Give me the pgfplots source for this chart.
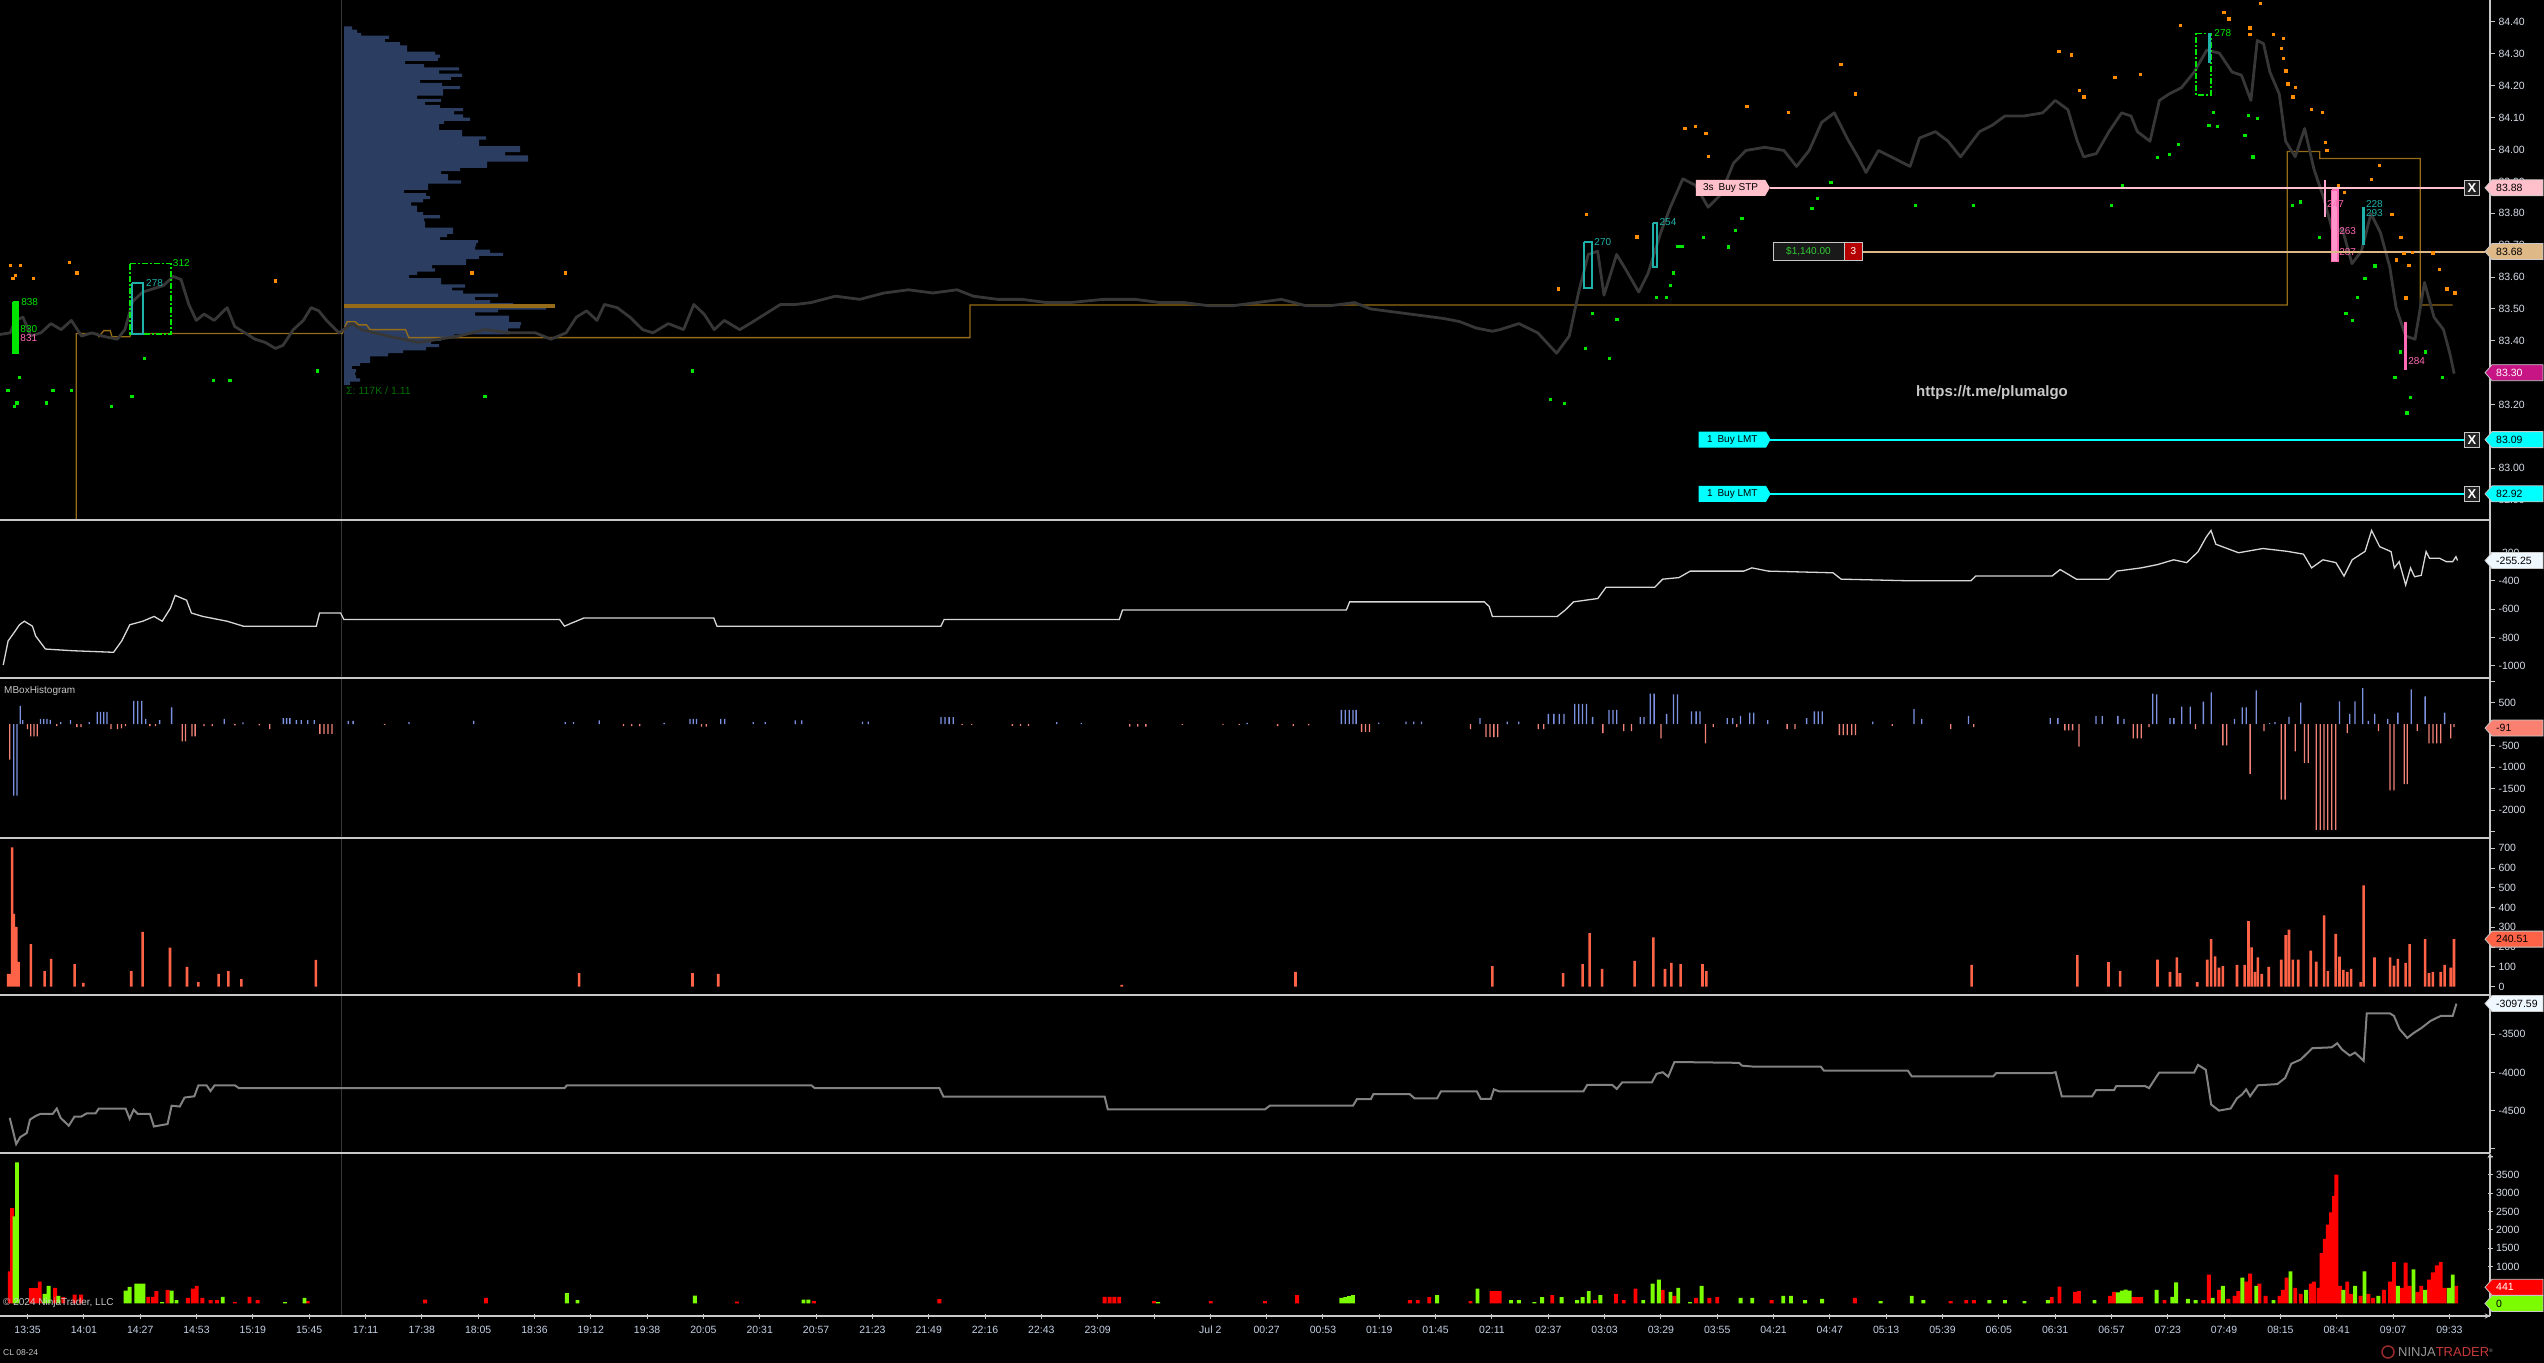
\documentclass[border=0pt]{standalone}
\usepackage{pgfplots}
\pgfplotsset{compat=1.18}
\usepackage{fontspec}
\setmainfont{Liberation Sans}
\usetikzlibrary{shapes.symbols}

\definecolor{axcol}{RGB}{200,200,200}
\definecolor{tickcol}{RGB}{215,220,232}
\definecolor{xtickcol}{RGB}{195,208,228}
\definecolor{profcol}{RGB}{43,62,98}
\definecolor{poccol}{RGB}{150,108,25}
\definecolor{pricecol}{RGB}{55,55,55}
\definecolor{odot}{RGB}{255,140,0}
\definecolor{gdot}{RGB}{0,230,0}
\definecolor{tealc}{RGB}{32,178,170}
\definecolor{hpink}{RGB}{255,105,180}
\definecolor{pinkord}{RGB}{255,192,203}
\definecolor{tanord}{RGB}{222,184,135}
\definecolor{cyanord}{RGB}{0,255,255}
\definecolor{magflag}{RGB}{199,21,133}
\definecolor{whflag}{RGB}{240,248,255}
\definecolor{salm}{RGB}{240,130,120}
\definecolor{salmflag}{RGB}{250,128,114}
\definecolor{blu}{RGB}{125,145,225}
\definecolor{tomato}{RGB}{255,99,71}
\definecolor{vred}{RGB}{255,0,0}
\definecolor{vgreen}{RGB}{124,252,0}
\definecolor{p2line}{RGB}{215,215,215}
\definecolor{p5line}{RGB}{130,130,130}
\definecolor{sessc}{RGB}{55,55,55}
\definecolor{xbg}{RGB}{35,35,35}
\definecolor{lgray}{RGB}{200,200,200}
\definecolor{dgreen}{RGB}{0,110,0}
\definecolor{ordbg}{RGB}{25,25,25}
\definecolor{ordgreen}{RGB}{50,205,50}
\definecolor{ordred}{RGB}{180,0,0}
\definecolor{logocol}{RGB}{150,40,40}
\definecolor{logotext}{RGB}{150,150,150}

\newcommand{\tf}{\fontsize{10.5}{12}\selectfont}
\newcommand{\lf}{\fontsize{10}{11}\selectfont}

\newcommand{\flag}[4]{%
  \filldraw[fill=#2, draw=axcol, line width=0.8pt] ([xshift=-5pt]#1) -- ++(7pt,8pt) -- ++(51pt,0pt) -- ++(0pt,-16pt) -- ++(-51pt,0pt) -- cycle;
  \node[anchor=west, inner sep=0pt, text=#3, font=\tf] at ([xshift=6pt]#1) {#4};
}

\pgfplotsset{
  panelbase/.style={
    scale only axis, width=2490pt, xmin=0, xmax=1535,
    anchor=north west,
    axis line style={draw=axcol, line width=1.3pt, -},
    tick align=outside, major tick length=5pt,
    ytick style={draw=axcol, line width=1pt},
    yticklabel style={font=\tf, text=tickcol, anchor=west},
    /pgf/number format/assume math mode=true,
    /pgf/number format/1000 sep={},
    scaled y ticks=false,
  },
  panel/.style={panelbase, axis x line=none, axis y line*=right},
}

\begin{document}
\begin{tikzpicture}[x=1pt,y=1pt]
\useasboundingbox (0,0) rectangle (2544,1363);
\fill[black] (0,0) rectangle (2544,1363);
\draw[sessc, line width=1pt] (341,47) -- (341,1363);

% ---------- volume profile ----------
\begin{axis}[at={(344pt,1363pt)}, anchor=north west, scale only axis, width=250pt, height=520pt,
  xmin=0, xmax=250, ymin=82.838, ymax=84.469, hide axis]
\addplot[xbar, bar width=0.00986, bar shift=0pt, fill=profcol, draw=none] coordinates {
(8,84.381) (13,84.371) (17,84.361) (45,84.352) (41,84.342) (56,84.332) (63,84.322) (63,84.312) (91,84.302) (96,84.293)
(94,84.283) (61,84.273) (80,84.263) (115,84.253) (95,84.243) (118,84.233) (107,84.223) (76,84.214) (98,84.204) (116,84.194)
(99,84.184) (99,84.174) (73,84.164) (97,84.154) (81,84.145) (96,84.135) (119,84.125) (110,84.115) (119,84.105) (126,84.095)
(100,84.085) (95,84.076) (95,84.066) (118,84.056) (118,84.046) (142,84.036) (135,84.026) (135,84.016) (176,84.006) (176,83.997)
(161,83.987) (184,83.977) (184,83.967) (143,83.957) (143,83.947) (116,83.937) (97,83.928) (104,83.918) (104,83.908) (117,83.898)
(84,83.888) (84,83.878) (60,83.868) (82,83.858) (86,83.849) (79,83.839) (67,83.829) (73,83.819) (73,83.809) (79,83.799)
(96,83.789) (80,83.780) (81,83.770) (81,83.760) (109,83.750) (109,83.740) (103,83.730) (96,83.720) (134,83.711) (132,83.701)
(131,83.691) (146,83.681) (159,83.671) (135,83.661) (122,83.651) (122,83.642) (88,83.632) (91,83.622) (73,83.612) (65,83.602)
(97,83.592) (97,83.582) (121,83.572) (108,83.563) (119,83.553) (154,83.543) (131,83.533) (146,83.523) (169,83.513) (202,83.503)
(154,83.494) (131,83.484) (165,83.474) (165,83.464) (177,83.454) (176,83.444) (164,83.434) (166,83.425) (110,83.415) (97,83.405)
(87,83.395) (95,83.385) (82,83.375) (59,83.366) (44,83.356) (26,83.346) (26,83.336) (16,83.326) (8,83.316) (12,83.306)
(11,83.297) (12,83.287) (16,83.277) (6,83.267)};
\end{axis}

% ---------- P1 price ----------
\begin{axis}[panel, at={(0pt,1363pt)}, height=520pt, ymin=82.838, ymax=84.469,
  ytick={82.9,83,83.1,83.2,83.4,83.5,83.6,83.7,83.8,83.9,84,84.1,84.2,84.3,84.4},
  extra y ticks={83.3}, extra y tick labels={},
  yticklabel={\pgfmathprintnumber[fixed,fixed zerofill,precision=2]{\tick}}]
\addplot[poccol, line width=1.3pt] coordinates {(47,82.838) (47,83.423) (60,83.423) (61,83.413) (64,83.432) (68,83.432) (69,83.413) (80,83.413) (81,83.423) (211,83.423) (214,83.46) (219,83.46) (221,83.45) (226,83.45) (228,83.435) (250,83.435) (252,83.41) (598,83.41) (598,83.512) (1410,83.512) (1410,83.994) (1430,83.994) (1430,83.972) (1492,83.972) (1492,83.512) (1512,83.512)};
\addplot[pricecol, line width=2.8pt, line join=round] coordinates {
(0,83.42) (6.3,83.425) (9.4,83.464) (14.2,83.474) (18.9,83.415) (25.2,83.425) (31.4,83.454) (37.7,83.435) (44,83.464) (50.3,83.415)
(56.6,83.425) (62.9,83.415) (72.3,83.405) (77,83.435) (81.8,83.524) (88,83.553) (94.3,83.563) (100.6,83.573) (106.9,83.602) (111.6,83.592)
(116.4,83.514) (121,83.464) (125.8,83.484) (132,83.464) (140,83.504) (144.7,83.445) (151,83.425) (157.2,83.405) (163.5,83.395) (169.8,83.376)
(174.5,83.386) (180.8,83.435) (187,83.464) (191.8,83.504) (196.5,83.494) (201.3,83.464) (209,83.425) (217,83.454) (223,83.435) (239,83.415)
(258,83.395) (283,83.415) (298.7,83.435) (314.5,83.425) (330,83.425) (339.6,83.405) (349,83.425) (355.3,83.474) (361.6,83.494) (368,83.464)
(372.6,83.514) (380.5,83.504) (388.4,83.474) (396.2,83.435) (402.5,83.425) (412,83.454) (421.4,83.435) (427.7,83.514) (434,83.484) (440.3,83.435)
(446.5,83.464) (456,83.435) (462.3,83.454) (471.7,83.484) (481.1,83.514) (490.6,83.514)
(500,83.52) (515,83.54) (530,83.53) (545,83.55) (560,83.56) (575,83.55) (590,83.56) (600,83.54) (615,83.53) (630,83.53)
(645,83.52) (660,83.52) (680,83.53) (700,83.53) (715,83.52) (730,83.52) (745,83.51) (760,83.51) (775,83.52) (790,83.53)
(805,83.51) (820,83.51) (835,83.52) (845,83.50) (860,83.49) (875,83.48) (890,83.47) (900,83.46) (910,83.44) (920,83.43)
(924.6,83.435) (936.3,83.454) (948,83.425) (959.6,83.361) (967.4,83.415) (973.2,83.553) (979.1,83.671) (984.9,83.681) (988.8,83.543) (996.6,83.671)
(1002.4,83.622) (1010.2,83.553) (1016,83.612) (1023.8,83.74) (1029.7,83.819) (1037.4,83.908) (1045.2,83.888) (1053,83.819) (1060.8,83.859) (1068.6,83.957)
(1076.3,83.997) (1088,84.007) (1099.7,83.997) (1107.5,83.947) (1115.3,83.997) (1123,84.085) (1130.8,84.115) (1138.6,84.036) (1146.4,83.967) (1150.3,83.928)
(1158,83.997) (1169.7,83.967) (1177.5,83.947) (1183.3,84.036) (1193.1,84.056) (1200.9,84.026) (1208.6,83.977) (1220.3,84.056) (1228.1,84.076) (1235.9,84.105)
(1247.6,84.105) (1259.2,84.115) (1267,84.154) (1274.8,84.125) (1280.6,84.026) (1284.5,83.977) (1292.3,83.987) (1300.1,84.056) (1307.9,84.115) (1313.7,84.105)
(1317.6,84.056) (1325.4,84.026) (1331.2,84.154) (1337.1,84.174) (1344.8,84.194) (1352.6,84.243) (1360.4,84.312) (1368.2,84.302) (1376,84.243) (1381.8,84.233)
(1387.6,84.154) (1391.5,84.342) (1395.4,84.332) (1399.3,84.243) (1405.1,84.174) (1409,84.026) (1414.9,83.977) (1420.7,84.066) (1426.5,83.938) (1432.4,83.849)
(1438.2,83.74) (1444,83.75) (1449.9,83.642) (1455.7,83.681) (1461.6,83.799) (1467.4,83.74) (1473.2,83.632) (1477.1,83.504) (1483,83.415) (1488.8,83.405)
(1494.6,83.583) (1500.5,83.474) (1506.3,83.435) (1510.2,83.361) (1512.9,83.297)};
\addplot[poccol, line width=4pt] coordinates {(212,83.51) (342,83.51)};
\addplot[only marks, mark=square*, mark size=1.2pt, color=odot] coordinates {
(6.3,83.638) (12.6,83.638) (9.4,83.606) (7.9,83.596) (20.4,83.596) (42.5,83.646) (47.2,83.614) (169.8,83.588) (290.9,83.614) (348.4,83.614)
(960.4,83.563) (977.9,83.798) (1009,83.727) (1038.6,84.066) (1045.2,84.074) (1051.4,84.052) (1053,83.979) (1076.7,84.135) (1102.4,84.117) (1134.7,84.268)
(1143.7,84.175) (1269,84.308) (1276.7,84.297) (1281.8,84.186) (1284.5,84.166) (1303.6,84.226) (1319.5,84.237) (1344,84.389) (1370.9,84.43) (1374,84.41)
(1386.8,84.382) (1386.8,84.361) (1393.5,84.459) (1401.3,84.361) (1407.5,84.35) (1406.3,84.318) (1407.5,84.286) (1409,84.247) (1410.2,84.207) (1414.9,84.196)
(1413.3,84.166) (1424.6,84.127) (1431.6,84.117) (1433.5,84.023) (1434.3,83.997) (1441.3,83.888) (1445.2,83.867) (1461.6,83.907) (1466.6,83.95) (1474.4,83.798)
(1477.1,83.655) (1479.9,83.725) (1481.8,83.674) (1484.9,83.637) (1486.9,83.677) (1499.7,83.676) (1503.6,83.624) (1508.3,83.563) (1513.3,83.551) (1483,83.535)};
\addplot[only marks, mark=square*, mark size=1.2pt, color=gdot] coordinates {
(4.7,83.245) (8.8,83.195) (10.4,83.206) (11.9,83.285) (28.3,83.206) (32.4,83.245) (44,83.245) (68.6,83.195) (81.1,83.226) (89,83.345)
(131.4,83.277) (141.5,83.277) (195.6,83.306) (298.7,83.226) (426.7,83.306)
(955.7,83.216) (964.3,83.205) (977.1,83.377) (981.4,83.487) (991.9,83.345) (996.6,83.468) (1021.1,83.537) (1027.3,83.537) (1029.7,83.575) (1031.6,83.613)
(1034.3,83.697) (1036.7,83.697) (1049.9,83.725) (1065.5,83.695) (1069.7,83.747) (1073.6,83.785) (1116.8,83.815) (1120.3,83.847) (1128.5,83.897) (1180.6,83.826)
(1216.4,83.825) (1301.3,83.826) (1308.3,83.888) (1330,83.975) (1337.4,83.986) (1342.9,84.016) (1361.6,84.076) (1364.3,84.117) (1367,84.074) (1383.7,84.045)
(1386.1,84.108) (1388.8,83.978) (1391.5,84.098) (1412.9,83.826) (1418,83.836) (1429.7,83.725) (1446,83.486) (1449.9,83.465) (1453,83.536) (1457.7,83.596)
(1463.9,83.636) (1476.3,83.285) (1479.5,83.366) (1483.7,83.175) (1485.7,83.224) (1495,83.366) (1505.5,83.285)};
\addplot[gdot, fill=gdot, line width=1pt] coordinates {(8,83.522) (11.5,83.522) (11.5,83.36) (8,83.36) (8,83.522)};
\addplot[gdot, line width=1.6pt, dash pattern=on 6pt off 2pt on 2pt off 2pt] coordinates {(80.2,83.643) (105.3,83.643) (105.3,83.421) (80.2,83.421) (80.2,83.643)};
\addplot[tealc, line width=2pt] coordinates {(81.1,83.582) (88,83.582) (88,83.421) (81.1,83.421) (81.1,83.582)};
\addplot[tealc, line width=2pt] coordinates {(976.4,83.711) (981.4,83.711) (981.4,83.567) (976.4,83.567) (976.4,83.711)};
\addplot[tealc, line width=2pt] coordinates {(1018.8,83.771) (1021.5,83.771) (1021.5,83.63) (1018.8,83.63) (1018.8,83.771)};
\addplot[gdot, line width=1.6pt, dash pattern=on 6pt off 2pt on 2pt off 2pt] coordinates {(1353.8,84.364) (1363.1,84.364) (1363.1,84.171) (1353.8,84.171) (1353.8,84.364)};
\addplot[tealc, line width=3pt] coordinates {(1362,84.364) (1362,84.27)};
\addplot[hpink!60, line width=2pt] coordinates {(1433.3,83.904) (1433.3,83.789)};
\addplot[hpink, fill=hpink!70, line width=1.5pt] coordinates {(1437.4,83.873) (1441.3,83.873) (1441.3,83.648) (1437.4,83.648) (1437.4,83.873)};
\addplot[tealc, line width=3pt] coordinates {(1456.7,83.821) (1456.7,83.7)};
\addplot[hpink, line width=3pt] coordinates {(1483,83.46) (1483,83.308)};
\node[anchor=west, inner sep=0pt, text=gdot, font=\lf] at (axis cs:13,83.52) {838};
\node[anchor=west, inner sep=0pt, text=gdot, font=\lf] at (axis cs:12.5,83.437) {830};
\node[anchor=west, inner sep=0pt, text=hpink, font=\lf] at (axis cs:12.5,83.41) {831};
\node[anchor=west, inner sep=0pt, text=tealc, font=\lf] at (axis cs:90,83.58) {278};
\node[anchor=west, inner sep=0pt, text=gdot, font=\lf] at (axis cs:106.5,83.643) {312};
\node[anchor=west, inner sep=0pt, text=tealc, font=\lf] at (axis cs:982.8,83.711) {270};
\node[anchor=west, inner sep=0pt, text=tealc, font=\lf] at (axis cs:1023,83.771) {254};
\node[anchor=west, inner sep=0pt, text=gdot, font=\lf] at (axis cs:1365,84.364) {278};
\node[anchor=west, inner sep=0pt, text=hpink, font=\lf] at (axis cs:1434.5,83.83) {247};
\node[anchor=west, inner sep=0pt, text=hpink, font=\lf] at (axis cs:1442,83.745) {263};
\node[anchor=west, inner sep=0pt, text=hpink, font=\lf] at (axis cs:1442,83.678) {287};
\node[anchor=west, inner sep=0pt, text=tealc, font=\lf] at (axis cs:1458.5,83.83) {228};
\node[anchor=west, inner sep=0pt, text=tealc, font=\lf] at (axis cs:1458.5,83.80) {293};
\node[anchor=west, inner sep=0pt, text=hpink, font=\lf] at (axis cs:1484.5,83.335) {284};
\addplot[pinkord, line width=2pt] coordinates {(1091,83.88) (1519,83.88)};
\addplot[tanord, line width=2pt] coordinates {(1148,83.68) (1532,83.68)};
\addplot[cyanord, line width=2pt] coordinates {(1091,83.09) (1519,83.09)};
\addplot[cyanord, line width=2pt] coordinates {(1091,82.92) (1519,82.92)};
\node[signal, signal to=east, signal pointer angle=120, fill=pinkord, text=black, font=\lf, minimum height=16pt, minimum width=74pt, inner xsep=3pt, inner ysep=0pt, anchor=west] at (axis cs:1045.3,83.88) {3s\hspace{5pt}Buy STP};
\node[signal, signal to=east, signal pointer angle=120, fill=cyanord, text=black, font=\lf, minimum height=16pt, minimum width=72pt, inner xsep=3pt, inner ysep=0pt, anchor=west] at (axis cs:1047,83.09) {1\hspace{5pt}Buy LMT};
\node[signal, signal to=east, signal pointer angle=120, fill=cyanord, text=black, font=\lf, minimum height=16pt, minimum width=72pt, inner xsep=3pt, inner ysep=0pt, anchor=west] at (axis cs:1047,82.92) {1\hspace{5pt}Buy LMT};
\node[anchor=west, fill=ordbg, draw=axcol, line width=0.8pt, text=ordgreen, font=\lf, minimum height=18pt, minimum width=71pt, inner sep=2pt] at (axis cs:1092.7,83.68) {\$1,140.00};
\node[anchor=west, fill=ordred, draw=axcol, line width=0.8pt, text=white, font=\lf, minimum height=18pt, minimum width=18pt, inner sep=1pt] at (axis cs:1136.7,83.68) {3};
\node[fill=xbg, draw=axcol, line width=1pt, minimum size=15pt, inner sep=0pt, text=white, font=\bfseries\fontsize{13}{13}\selectfont] at (axis cs:1523.8,83.88) {X};
\node[fill=xbg, draw=axcol, line width=1pt, minimum size=15pt, inner sep=0pt, text=white, font=\bfseries\fontsize{13}{13}\selectfont] at (axis cs:1523.8,83.09) {X};
\node[fill=xbg, draw=axcol, line width=1pt, minimum size=15pt, inner sep=0pt, text=white, font=\bfseries\fontsize{13}{13}\selectfont] at (axis cs:1523.8,82.92) {X};
\coordinate (f1) at (axis cs:1535,83.88);
\coordinate (f2) at (axis cs:1535,83.68);
\coordinate (f3) at (axis cs:1535,83.30);
\coordinate (f4) at (axis cs:1535,83.09);
\coordinate (f5) at (axis cs:1535,82.92);
\end{axis}

% ---------- P2 ----------
\begin{axis}[panel, at={(0pt,843pt)}, height=158pt, ymin=-1087, ymax=32,
  ytick={-1000,-800,-600,-400,-200}]
\addplot[p2line, line width=1.3pt] coordinates {
(2,-995) (5,-825) (10,-744) (12,-710) (15,-685) (20,-720) (22,-790) (28,-882) (45,-894) (70,-905) (75,-825) (80,-710) (88,-685) (95,-651) (100,-685)
(105,-594) (108,-502) (115,-536) (118,-627) (125,-651) (140,-685) (150,-720) (195,-720) (197,-627) (210,-627) (212,-673) (345,-673) (348,-720) (352,-700)
(360,-662) (440,-662) (442,-720) (580,-720) (582,-673) (690,-673) (692,-605) (830,-605) (832,-548) (915,-548) (918,-580) (920,-651) (960,-651) (965,-605)
(970,-548) (985,-524) (990,-445) (1020,-445) (1025,-387) (1035,-376) (1042,-330) (1075,-330) (1080,-307) (1090,-330) (1130,-342) (1135,-387) (1175,-398)
(1215,-398) (1218,-365) (1265,-365) (1270,-319) (1280,-387) (1300,-387) (1305,-330) (1320,-307) (1330,-284) (1340,-250) (1348,-270) (1355,-193) (1360,-90)
(1363,-42) (1366,-140) (1380,-200) (1395,-170) (1410,-190) (1420,-210) (1425,-307) (1432,-250) (1440,-270) (1445,-365) (1450,-250) (1458,-190) (1462,-42)
(1467,-157) (1474,-192) (1476,-308) (1479,-263) (1483,-428) (1486,-308) (1488.5,-370) (1492.6,-360) (1495.6,-192) (1497.7,-239) (1503.9,-239) (1508,-263)
(1512,-263) (1514,-228) (1515,-255)};
\coordinate (g1) at (axis cs:1535,-255.25);
\end{axis}

% ---------- P3 MBoxHistogram ----------
\begin{axis}[panel, at={(0pt,685pt)}, height=160pt, ymin=-2652, ymax=1075,
  ytick={-2000,-1500,-1000,-500,500}, extra y ticks={-2500,0,1000}, extra y tick labels={}]
\addplot[ybar, bar width=0.8, bar shift=0pt, fill=blu, draw=none] coordinates {
(8.5,-1664) (10.5,-1664) (12.5,428) (14,95) (25,124) (27,124) (29,124) (31,100) (37.4,48) (43.4,95) (55,48) (60,285) (62,285) (64,285) (66,285)
(82.4,542) (84.9,542) (87.4,542) (89.9,124) (98.4,95) (105.8,390) (138.3,124) (149.8,40) (174.7,143) (176.7,143) (178.7,143) (182.7,95) (185.7,95)
(189.7,95) (193.7,95) (214.7,76) (217.7,76) (252.1,48) (292.1,76) (348.5,48) (353.5,48) (369.4,86) (409.4,30) (425.4,124) (427.4,124) (429.4,124)
(444.3,124) (446.8,124) (464.3,48) (471.8,48) (490.3,86) (494.3,86) (531.7,57) (535.2,57) (580.1,162) (582.6,162) (585.1,162) (587.6,162) (651.5,48)
(666.5,30) (768.8,30) (826.9,333) (829.3,333) (831.7,333) (834.1,333) (836,333) (850,38) (866.7,57) (871.5,57) (876.3,57) (912.3,143) (929.1,57)
(936.3,57) (954.5,238) (957.9,238) (961.2,238) (964.1,238) (970.8,475) (973.2,475) (975.6,475) (978,475) (981.8,171) (991.9,333) (994.3,333) (996.7,333)
(1011.1,162) (1013.5,162) (1017.3,713) (1019.7,713) (1027.4,238) (1031.7,694) (1034.1,694) (1042.7,295) (1045.6,295) (1048,295) (1064.8,143) (1068.2,143)
(1073,190) (1078.7,266) (1081.1,266) (1089.7,95) (1113.7,143) (1118.5,295) (1120.9,295) (1123.3,295) (1154.5,57) (1179.9,352) (1184.7,124) (1213.5,190)
(1263.9,143) (1268.6,143) (1292.1,190) (1296,190) (1305.6,190) (1309.4,124) (1327.1,713) (1329.5,694) (1337.7,143) (1340.1,143) (1345,409) (1350.2,409)
(1358.3,523) (1363.1,742) (1377.5,124) (1382.3,390) (1384.7,390) (1390.9,789) (1399.1,30) (1402.4,48) (1411.1,171) (1418.3,504) (1442.2,533) (1448.5,238)
(1451.8,533) (1456.6,837) (1460,76) (1463.9,238) (1472,124) (1478.2,266) (1486.4,808) (1495,647) (1507,266)};
\addplot[ybar, bar width=0.8, bar shift=0pt, fill=salm, draw=none] coordinates {
(6,-827) (17,-114) (19,-285) (21,-285) (23,-285) (35,-48) (47.4,-67) (49.9,-67) (68.4,-114) (72.4,-114) (74.9,-100) (77.4,-48) (92.4,-48) (95.9,-48)
(112.3,-400) (114.3,-400) (118.3,-285) (120.3,-285) (125.8,-48) (130.8,-48) (144.8,-30) (159.8,-30) (166.3,-114) (197.2,-228) (199.7,-228) (202.2,-228)
(204.7,-228) (237.1,-19) (384.4,-48) (389.4,-48) (394.4,-48) (432.4,-57) (435.4,-57) (593.1,-19) (599.1,-19) (624.1,-38) (629.1,-38) (634,-38) (696.5,-57)
(701.4,-57) (706.4,-57) (728.9,-19) (753.9,-19) (763.9,-19) (787.6,-48) (797.2,-48) (806.8,-30) (839.4,-181) (841.8,-181) (844.2,-181) (906.5,-114)
(916.1,-304) (918.5,-304) (920.9,-304) (923.3,-304) (948.3,-114) (951.6,-114) (988.1,-209) (1001,-162) (1005.8,-162) (1024,-333) (1051.4,-447) (1056.2,-67)
(1070.6,-67) (1101.7,-114) (1106.5,-114) (1133.9,-257) (1136.3,-257) (1138.7,-257) (1141.5,-257) (1143.9,-257) (1166.5,-38) (1202.5,-114) (1216.8,-67)
(1272.9,-143) (1275.3,-143) (1277.7,-143) (1281.6,-523) (1315.1,-333) (1317.6,-333) (1320,-333) (1324.8,-67) (1353.5,-114) (1370.3,-495) (1372.7,-495)
(1387.1,-1160) (1395.7,-162) (1406.3,-1760) (1408.7,-1760) (1414.9,-637) (1420.6,-903) (1423,-903) (1427.9,-2463) (1430.3,-2463) (1432.7,-2463) (1435,-2463)
(1437.4,-2463) (1439.9,-2463) (1447,-209) (1466.2,-162) (1473.4,-1541) (1475.8,-1541) (1482.1,-1398) (1484,-1398) (1490.2,-162) (1497.4,-447) (1499.8,-447)
(1502.2,-447) (1504.6,-447) (1510.8,-333) (1512.8,-67)};
\coordinate (h1) at (axis cs:1535,-91);
\end{axis}

% ---------- P4 ----------
\begin{axis}[panel, at={(0pt,525pt)}, height=157pt, ymin=-42, ymax=752,
  ytick={0,100,200,300,400,500,600,700}]
\addplot[ybar, bar width=1.6, bar shift=0pt, fill=tomato, draw=none] coordinates {
(5,65) (6,65) (7.5,705) (8.5,368) (10,302) (11.5,126) (19,215) (27.5,79) (31.5,141) (46,114) (51.4,19) (80.9,79) (87.9,277) (104.8,197) (115.3,100)
(122.3,23) (134.8,65) (140.8,79) (148.8,38) (194.7,135) (357,69) (426.9,69) (442.8,65) (691.5,9) (798.6,75) (920,104) (963.6,69) (975.6,114) (979.9,271)
(987.6,90) (1007.7,131) (1019.2,250) (1026.4,90) (1030.3,120) (1036,114) (1049.5,114) (1051.9,79) (1215.4,110) (1280.6,160) (1299.8,124) (1307,79)
(1330,137) (1337.7,75) (1342,148) (1343.9,69) (1354.5,23) (1360.7,137) (1363.1,240) (1365.5,153) (1367.9,96) (1370.3,104) (1379,110) (1383.7,110)
(1386.1,331) (1388,199) (1390,75) (1391.9,148) (1394.3,65) (1398.6,100) (1406.3,137) (1409.1,261) (1411.1,288) (1413.5,137) (1416.8,137) (1424.5,182)
(1427.9,127) (1432.7,361) (1435,79) (1439.9,267) (1442.2,152) (1444.6,85) (1447,75) (1449.4,90) (1455.2,23) (1457.1,513) (1463.8,148) (1473.4,148)
(1475.8,106) (1478.2,141) (1483,120) (1485.4,215) (1495,240) (1497.4,69) (1499.8,75) (1504.6,75) (1507,110) (1510.8,96) (1512.8,240)};
\coordinate (k1) at (axis cs:1535,240.51);
\end{axis}

% ---------- P5 ----------
\begin{axis}[panel, at={(0pt,368pt)}, height=158pt, ymin=-5054, ymax=-2986,
  ytick={-4500,-4000,-3500}, extra y ticks={-5000,-3000}, extra y tick labels={}]
\addplot[p5line, line width=2pt] coordinates {
(6,-4595) (10,-4937) (12.5,-4846) (16.5,-4793) (18.5,-4616) (22.5,-4563) (25,-4542) (32.5,-4542) (35,-4472) (37.4,-4595) (42.4,-4697) (45.9,-4579)
(49.9,-4579) (53.4,-4536) (58.9,-4536) (60.9,-4472) (77.4,-4472) (79.9,-4606) (82.4,-4488) (84.9,-4542) (92.4,-4542) (94.9,-4707) (103.3,-4675)
(105.8,-4435) (110.8,-4446) (113.8,-4328) (119.8,-4312) (122.3,-4168) (127.3,-4168) (129.8,-4243) (132.3,-4168) (144.8,-4168) (147.3,-4205) (348,-4205)
(349.5,-4168) (500.2,-4168) (502.2,-4205) (579.1,-4205) (581.6,-4317) (681,-4317) (682.9,-4483) (779.8,-4483) (782.8,-4435) (834.1,-4435) (836.5,-4349)
(845.1,-4349) (846.6,-4285) (869.1,-4285) (872,-4339) (885.9,-4339) (888.3,-4248) (910.4,-4248) (912.8,-4344) (919,-4344) (920.9,-4221) (924.3,-4248)
(976.1,-4248) (978.5,-4162) (993.8,-4162) (996.7,-4216) (1000,-4130) (1018.3,-4130) (1021.2,-4018) (1025,-3997) (1028.4,-4056) (1032.2,-3863) (1072,-3874)
(1073.9,-3911) (1080.2,-3922) (1122.4,-3922) (1124.3,-3975) (1176.1,-3975) (1178.5,-4050) (1228.8,-4050) (1230.7,-4007) (1264.8,-4007) (1267.2,-3997)
(1271,-4312) (1289.7,-4312) (1292.1,-4232) (1303.2,-4232) (1304.6,-4178) (1322.3,-4178) (1324.8,-4205) (1331,-4002) (1352.6,-4002) (1355,-3901)
(1359.8,-3965) (1363.1,-4419) (1367.9,-4499) (1375.1,-4472) (1379,-4339) (1382.3,-4285) (1384.7,-4221) (1387.1,-4312) (1391.9,-4168) (1403.9,-4152)
(1408.7,-4072) (1412.5,-3885) (1418.3,-3831) (1425.5,-3682) (1437.4,-3671) (1440.8,-3618) (1443.7,-3698) (1448.5,-3778) (1451.8,-3740) (1457.1,-3847)
(1459,-3228) (1473.4,-3228) (1475.8,-3260) (1479.2,-3431) (1484,-3548) (1487.9,-3484) (1492.6,-3420) (1498.4,-3324) (1504.6,-3260) (1512,-3260) (1514.3,-3099)};
\coordinate (m1) at (axis cs:1535,-3097.59);
\end{axis}

% ---------- P6 volume ----------
\begin{axis}[panelbase, at={(0pt,210pt)}, height=163pt, ymin=-340, ymax=4090,
  axis x line=bottom, axis y line=right,
  ytick={1000,1500,2000,2500,3000,3500}, extra y ticks={0,500,4000}, extra y tick labels={},
  xtick={17,51.72,86.44,121.16,155.88,190.6,225.32,260.04,294.76,329.48,364.2,398.92,433.64,468.36,503.08,537.8,572.52,607.24,641.96,676.68,711.4,746.12,780.84,815.56,850.28,885,919.72,954.44,989.16,1023.88,1058.6,1093.32,1128.04,1162.76,1197.48,1232.2,1266.92,1301.64,1336.36,1371.08,1405.8,1440.52,1475.24,1509.96},
  xticklabels={13:35,14:01,14:27,14:53,15:19,15:45,17:11,17:38,18:05,18:36,19:12,19:38,20:05,20:31,20:57,21:23,21:49,22:16,22:43,23:09,{},Jul 2,00:27,00:53,01:19,01:45,02:11,02:37,03:03,03:29,03:55,04:21,04:47,05:13,05:39,06:05,06:31,06:57,07:23,07:49,08:15,08:41,09:07,09:33},
  xtick style={draw=axcol, line width=1pt},
  xticklabel style={font=\tf, text=xtickcol, yshift=-4pt}]
\addplot[ybar, bar width=2.4, bar shift=0pt, fill=vred, draw=none] coordinates {
(6,870) (7.5,2589) (19,416) (21,416) (23,416) (24.5,593) (34,427) (39,172) (46,238) (50,238) (91.4,183) (94.4,183) (96.4,338) (103.3,371) (115.8,150)
(118.8,405) (121.3,482) (124.8,150) (129.8,94) (133.8,94) (144.8,39) (153.8,183) (158.8,94) (189.7,61) (262.1,105) (299.6,150) (454.3,50) (501.7,61)
(579.1,116) (681,183) (684,183) (687,183) (690,183) (711.4,61) (746.4,61) (779.8,61) (799.6,227) (869.1,94) (874,94) (881.1,172) (906.5,61) (919.5,338)
(922,338) (924.5,338) (956.9,227) (983.3,94) (996.2,261) (1001,94) (1008.2,405) (1025,371) (1032.2,205) (1045.6,150) (1053.8,150) (1058.6,172) (1092.1,94)
(1143.5,150) (1202.5,61) (1212.1,94) (1216.8,94) (1264.8,172) (1269.6,460) (1279.2,316) (1281.6,338) (1300.8,205) (1303.2,316) (1315.1,172) (1317.6,172)
(1320,172) (1334.3,94) (1358.3,94) (1361.7,782) (1367.9,371) (1373.7,127) (1377.5,205) (1379.9,338) (1384.7,593) (1387.1,815) (1392.8,538) (1396.7,205)
(1405.3,205) (1407.2,371) (1409.6,704) (1414.9,427) (1418.3,261) (1424.5,538) (1426.4,593) (1429.3,427) (1431.2,1369) (1433.1,1757) (1435,2146) (1437,2478)
(1438.9,2922) (1440.3,3499) (1442.7,482) (1447,593) (1449.4,261) (1455.2,205) (1460,261) (1462.9,150) (1469.6,371) (1473.4,593) (1475.8,1125) (1480.6,427)
(1483,1114) (1485.4,482) (1490.2,316) (1492.6,482) (1497.4,649) (1499.8,848) (1502.2,1036) (1504.6,1125) (1507,427) (1514.2,482)};
\addplot[ybar, bar width=2.4, bar shift=0pt, fill=vgreen, draw=none] coordinates {
(9,2367) (10.5,3832) (27.5,260) (30,482) (36,205) (77.4,349) (79.9,449) (84,538) (86.4,538) (88.4,538) (99.9,39) (105.8,349) (108.8,94) (137.3,183)
(175.7,39) (187.7,150) (349.5,283) (356,94) (428.4,216) (495.3,105) (498.3,105) (713.9,39) (826.9,150) (829.3,170) (831.7,200) (834.1,227) (885.9,227)
(910.8,405) (931.5,94) (936.3,94) (945.9,39) (950.7,172) (962.7,172) (972.2,94) (975.6,172) (979.4,338) (986.6,227) (1013,94) (1018.8,538) (1022.6,649)
(1029.8,316) (1034.6,427) (1041.8,39) (1049,482) (1073,150) (1080.2,150) (1099.3,205) (1104.1,205) (1112.8,94) (1123.3,127) (1159.3,61) (1178.5,205)
(1185.7,94) (1226.4,94) (1236,94) (1248,61) (1262.4,94) (1291.2,94) (1305.6,300) (1308,350) (1310.4,380) (1312.8,350) (1329.5,371) (1339.1,183)
(1341.5,571) (1348.7,127) (1353.5,94) (1364.1,150) (1370.3,482) (1382.3,704) (1390.9,482) (1401.5,94) (1412,870) (1421.6,371) (1444.6,371) (1451.8,482)
(1457.6,870) (1466.2,205) (1478.2,482) (1487.8,926) (1495,371) (1509.6,427) (1512,782)};
\coordinate (n1) at (axis cs:1535,441);
\coordinate (n2) at (axis cs:1535,0);
\end{axis}

\draw[axcol, line width=1.5pt] (0,843) -- (2490,843);
\draw[axcol, line width=1.5pt] (0,685) -- (2490,685);
\draw[axcol, line width=1.5pt] (0,525) -- (2490,525);
\draw[axcol, line width=1.5pt] (0,368) -- (2490,368);
\draw[axcol, line width=1.5pt] (0,210) -- (2490,210);
\draw[axcol, line width=1.5pt] (0,47) -- (2490,47);

\flag{f1}{pinkord}{black}{83.88}
\flag{f2}{tanord}{black}{83.68}
\flag{f3}{magflag}{white}{83.30}
\flag{f4}{cyanord}{black}{83.09}
\flag{f5}{cyanord}{black}{82.92}
\flag{g1}{whflag}{black}{-255.25}
\flag{h1}{salmflag}{black}{-91}
\flag{k1}{tomato}{black}{240.51}
\flag{m1}{whflag}{black}{-3097.59}
\flag{n1}{vred}{white}{441}
\flag{n2}{vgreen}{black}{0}

\node[anchor=center, text=lgray, font=\bfseries\fontsize{15}{17}\selectfont] at (1992,970) {https://t.me/plumalgo};
\node[anchor=west, inner sep=0pt, text=dgreen, font=\fontsize{10.5}{12}\selectfont] at (346,972) {Σ: 117K / 1.11};
\node[anchor=west, inner sep=0pt, text=lgray, font=\fontsize{10}{11}\selectfont] at (4,672) {MBoxHistogram};
\node[anchor=west, inner sep=0pt, text=lgray, font=\fontsize{10}{11}\selectfont] at (3,60) {© 2024 NinjaTrader, LLC};
\node[anchor=west, inner sep=0pt, text=lgray, font=\fontsize{8.5}{10}\selectfont] at (3,10) {CL 08-24};
\draw[draw=logocol, line width=1.5pt] (2388,11) circle (6);
\node[anchor=west, inner sep=0pt, text=logotext, font=\fontsize{13}{14}\selectfont] at (2398,11) {NINJA\textcolor{red!55!gray}{TRADER}\textsuperscript{\tiny ®}};
\end{tikzpicture}
\end{document}
